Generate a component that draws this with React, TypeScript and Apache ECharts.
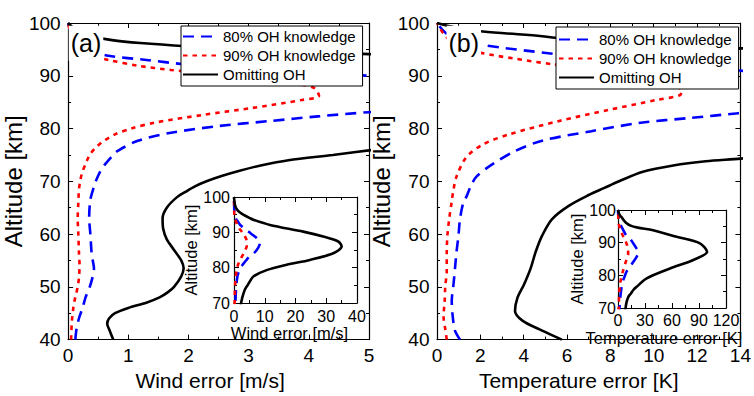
import React, { useEffect, useRef } from 'react';
import * as echarts from 'echarts';

const FONT = 'Liberation Sans, Arial, Helvetica, sans-serif';
const NAMES = ['80% OH knowledge', '90% OH knowledge', 'Omitting OH'];
const COLORS = ['#0000ff', '#ff0000', '#000000'];
const DASHES: any[] = [[11, 7], [4.5, 5], 'solid'];

// Axis ranges [min, max, step]
const windRange = [0, 5, 1];
const tempRange = [0, 14, 2];
const altRange = [40, 100, 10];
const windInsetRange = [0, 40, 10];
const tempInsetRange = [0, 120, 30];
const altInsetRange = [70, 100, 10];

// Panel (a): [wind error m/s, altitude km]
const windOH80 = [
  [0.12, 40], [0.14, 42], [0.18, 44], [0.24, 46], [0.29, 48], [0.36, 50], [0.41, 52], [0.43, 53.5],
  [0.41, 55], [0.39, 56.5], [0.37, 60], [0.35, 63], [0.37, 66.5], [0.43, 69], [0.47, 70.3], [0.54, 72],
  [0.62, 73.3], [0.75, 75], [0.83, 75.8], [1.16, 77.7], [1.71, 79.2], [2.52, 80.5], [3.33, 81.4],
  [4.15, 82.3], [5.0, 83.1], [6.5, 84.1], [7.8, 85.5], [8.5, 87.2], [7.5, 88.3], [6.2, 89.2], [5.0, 90],
  [3.8, 90.8], [2.7, 91.6], [1.92, 92.2], [1.3, 93], [0.67, 93.8], [0.3, 95], [0.1, 96], [0.05, 98], [0, 100],
];
const windOH90 = [
  [0.05, 40], [0.06, 43], [0.08, 45.4], [0.1, 47], [0.13, 48.5], [0.16, 50], [0.18, 51.7], [0.19, 54],
  [0.18, 56.6], [0.17, 60], [0.16, 62.8], [0.17, 66], [0.18, 68.4], [0.2, 70], [0.23, 71.5], [0.29, 73.3],
  [0.36, 75], [0.46, 76.4], [0.6, 77.7], [0.78, 78.9], [1.05, 80], [1.43, 81.1], [2.25, 82.6], [3.06, 83.9],
  [3.88, 85.4], [4.17, 86.2], [4.1, 87.6], [3.88, 88.3], [3.33, 89.2], [2.52, 90.2], [1.71, 91.1],
  [1.16, 91.9], [0.67, 93], [0.3, 94], [0.1, 95], [0.05, 97.5], [0, 100],
];
const windNoOH = [
  [0.75, 40], [0.68, 42], [0.65, 43], [0.68, 44], [0.78, 45], [1.0, 46], [1.3, 47], [1.52, 48], [1.66, 49],
  [1.76, 50], [1.88, 52], [1.92, 53.5], [1.88, 55], [1.76, 57], [1.64, 59], [1.58, 61], [1.57, 63],
  [1.64, 65], [1.81, 67], [1.95, 68], [2.1, 69], [2.3, 70], [2.55, 71], [2.85, 72], [3.2, 73], [3.66, 74],
  [4.4, 75], [5.1, 76], [6.3, 77.5], [10.6, 79.3], [17.1, 80.8], [24.7, 82.2], [32.3, 84.1], [35, 86],
  [33.9, 87.4], [29, 88.8], [22.5, 90.2], [11.7, 92.1], [6.5, 93.5], [5.0, 94.1], [3.0, 95], [1.97, 95.6],
  [1.2, 96.2], [0.73, 96.75], [0.4, 97.5], [0.15, 98.5], [0, 100],
];

// Panel (b): [temperature error K, altitude km]
const tempOH80 = [
  [1.06, 40], [0.83, 41.7], [0.73, 44.2], [0.68, 47.3], [0.76, 50.4], [0.83, 53.5], [0.9, 56.6],
  [0.99, 59.7], [1.06, 62.8], [1.21, 65.9], [1.36, 67.1], [1.55, 69], [1.82, 70.9], [2.58, 73.3],
  [3.64, 75.8], [4.85, 77.7], [7.12, 79.5], [9.4, 81.1], [11.67, 82], [13.9, 82.9], [17.5, 84.3],
  [20.5, 85.6], [23, 87], [20, 88.5], [16.5, 90], [13.9, 91], [9, 92.3], [5.45, 94.1], [1.97, 95.9],
  [0.8, 97], [0.3, 98.5], [0, 100],
];
const tempOH90 = [
  [0.45, 40], [0.38, 42], [0.3, 44.5], [0.35, 47], [0.38, 50], [0.45, 53], [0.45, 56.6], [0.48, 59.7],
  [0.56, 62.8], [0.67, 65.9], [0.76, 68.4], [0.9, 70.9], [1.36, 74.6], [2.12, 77], [3.33, 78.9],
  [5.6, 81.4], [7.9, 83.5], [10.1, 85.4], [11.2, 86.3], [11.3, 87.2], [10.8, 88.3], [9.6, 89.6],
  [8, 90.8], [6.5, 91.6], [5.3, 92.2], [3.5, 93.3], [1.97, 94.4], [0.8, 96], [0.3, 98], [0, 100],
];
const tempNoOH = [
  [5.76, 40], [4.85, 41.7], [3.94, 43.6], [3.6, 45.4], [3.71, 47.9], [4.01, 50.4], [4.32, 53.5],
  [4.55, 56.6], [4.85, 59.7], [5.3, 62.8], [6.06, 65.3], [7.0, 67.4], [7.7, 68.7], [8.4, 70],
  [9.5, 71.8], [10.9, 73], [12.4, 73.8], [14, 74.3], [17, 75.5], [20.7, 76.5], [31.9, 79.1], [57.8, 82.1],
  [83.7, 84.7], [99, 87.2], [91, 89.8], [65, 91.8], [39, 93.8], [22, 94.6], [14, 95.2], [8.5, 96.2],
  [5.45, 97.2], [4.85, 97.5], [2.12, 98.4], [0.8, 99.2], [0, 100],
];

const windSets = [windOH80, windOH90, windNoOH];
const tempSets = [tempOH80, tempOH90, tempNoOH];

const BLACK = '#000';

function axis(kind: 'x' | 'y', grid: number, range: number[], opts: any) {
  const {
    position, labels = false, labelSize = 19, margin = 7, name = '', nameSize = 21, nameGap = 30,
    namePad = [0, 0, 0, 0], tickLen = 5, minorLen = 3,
  } = opts;
  return {
    type: 'value',
    gridIndex: grid,
    position,
    min: range[0],
    max: range[1],
    interval: range[2],
    name,
    nameLocation: 'middle',
    nameGap,
    nameTextStyle: { fontSize: nameSize, fontFamily: FONT, color: BLACK, padding: namePad },
    axisLine: { show: true, onZero: false, lineStyle: { color: BLACK, width: 1.2 } },
    axisTick: { show: true, inside: true, length: tickLen, lineStyle: { color: BLACK, width: 1 } },
    minorTick: { show: true, splitNumber: 2, length: minorLen, lineStyle: { color: BLACK, width: 1 } },
    splitLine: { show: false },
    minorSplitLine: { show: false },
    axisLabel: {
      show: labels,
      fontSize: labelSize,
      fontFamily: FONT,
      color: BLACK,
      margin,
      showMinLabel: true,
      showMaxLabel: true,
    },
  };
}

function lineSeries(i: number, data: number[][], axisIdx: number) {
  return {
    type: 'line',
    name: NAMES[i],
    data,
    xAxisIndex: axisIdx,
    yAxisIndex: axisIdx,
    symbol: 'none',
    smooth: 0.3,
    clip: true,
    itemStyle: { color: COLORS[i] },
    lineStyle: { color: COLORS[i], width: 2.6, type: DASHES[i] },
    z: 3,
  };
}

function legend(left: number, top: number, padding: number[]) {
  return {
    orient: 'vertical',
    left,
    top,
    data: NAMES,
    itemWidth: 35,
    itemHeight: 14,
    itemGap: 4,
    padding,
    borderColor: BLACK,
    borderWidth: 1,
    borderRadius: 0,
    backgroundColor: '#fff',
    selectedMode: false,
    itemStyle: { opacity: 0 },
    textStyle: { fontSize: 15, fontFamily: FONT, color: BLACK },
    z: 10,
  };
}

function panelLabel(text: string, x: number) {
  return {
    type: 'text',
    x,
    y: 43.3,
    z: 100,
    style: {
      text,
      fontSize: 25,
      fontFamily: FONT,
      fill: BLACK,
      align: 'center',
      verticalAlign: 'middle',
      backgroundColor: '#fff',
      padding: [3, 2, 7, 2],
    },
  };
}

const option: any = {
  animation: false,
  backgroundColor: '#fff',
  grid: [
    { left: 62, top: 23, width: 307, height: 323 },
    { left: 234, top: 197, width: 123, height: 106, show: true, backgroundColor: '#fff', borderWidth: 0 },
    { left: 437, top: 23, width: 308, height: 323 },
    { left: 618, top: 210, width: 108, height: 98, show: true, backgroundColor: '#fff', borderWidth: 0 },
  ],
  xAxis: [
    axis('x', 0, windRange, { position: 'bottom', labels: true, margin: 6.5, name: 'Wind error [m/s]', nameGap: 29, namePad: [0, 17, 0, 0] }),
    axis('x', 0, windRange, { position: 'top' }),
    axis('x', 1, windInsetRange, { position: 'bottom', labels: true, labelSize: 16, margin: 5, name: 'Wind error [m/s]', nameSize: 16.5, nameGap: 19, namePad: [0, 12, 0, 0] }),
    axis('x', 1, windInsetRange, { position: 'top' }),
    axis('x', 2, tempRange, { position: 'bottom', labels: true, margin: 6.5, name: 'Temperature error [K]', nameGap: 29, namePad: [0, 20, 0, 0] }),
    axis('x', 2, tempRange, { position: 'top' }),
    axis('x', 3, tempInsetRange, { position: 'bottom', labels: true, labelSize: 16, margin: 4.5, name: 'Temperature error [K]', nameSize: 16.5, nameGap: 15.5, namePad: [0, 16, 0, 0] }),
    axis('x', 3, tempInsetRange, { position: 'top' }),
  ],
  yAxis: [
    axis('y', 0, altRange, { position: 'left', labels: true, margin: 7.5, name: 'Altitude [km]', nameSize: 24, nameGap: 30 }),
    axis('y', 0, altRange, { position: 'right' }),
    axis('y', 1, altInsetRange, { position: 'left', labels: true, labelSize: 16, margin: 4, name: 'Altitude [km]', nameSize: 16.5, nameGap: 31 }),
    axis('y', 1, altInsetRange, { position: 'right' }),
    axis('y', 2, altRange, { position: 'left', labels: true, margin: 7.5, name: 'Altitude [km]', nameSize: 24, nameGap: 35 }),
    axis('y', 2, altRange, { position: 'right' }),
    axis('y', 3, altInsetRange, { position: 'left', labels: true, labelSize: 16, margin: 2, name: 'Altitude [km]', nameSize: 16.5, nameGap: 29 }),
    axis('y', 3, altInsetRange, { position: 'right' }),
  ],
  legend: [legend(181, 26, [3, 7, 4, 1]), legend(556, 27, [5, 7, 4, 2])],
  graphic: [panelLabel('(a)', 86), panelLabel('(b)', 463.8)],
  series: [
    ...windSets.map((d, i) => lineSeries(i, d, 0)),
    ...windSets.map((d, i) => lineSeries(i, d, 2)),
    ...tempSets.map((d, i) => lineSeries(i, d, 4)),
    ...tempSets.map((d, i) => lineSeries(i, d, 6)),
  ],
};

export default function App() {
  const ref = useRef<HTMLDivElement>(null);
  useEffect(() => {
    document.body.style.margin = '0';
    const chart = echarts.init(ref.current as HTMLDivElement, null, { renderer: 'svg' });
    chart.setOption(option);
    return () => chart.dispose();
  }, []);
  return <div ref={ref} style={{ position: 'fixed', left: 0, top: 0, width: 754, height: 396 }} />;
}
